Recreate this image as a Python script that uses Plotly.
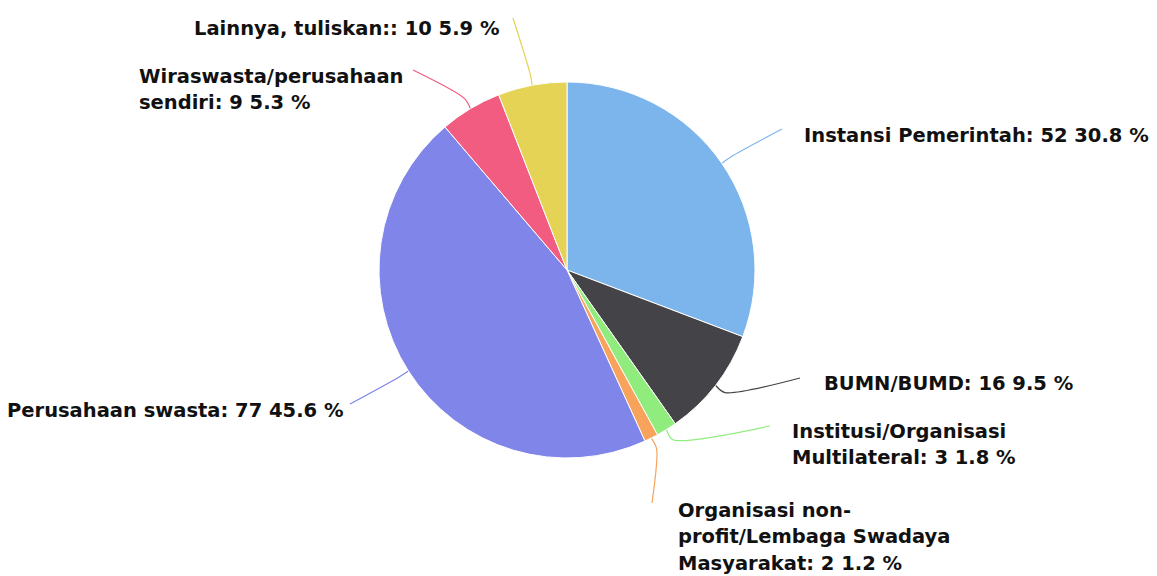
import math
import plotly.graph_objects as go

# ---- data ----
categories = [
    "Instansi Pemerintah",
    "BUMN/BUMD",
    "Institusi/Organisasi Multilateral",
    "Organisasi non-profit/Lembaga Swadaya Masyarakat",
    "Perusahaan swasta",
    "Wiraswasta/perusahaan sendiri",
    "Lainnya, tuliskan:",
]
counts = [52, 16, 3, 2, 77, 9, 10]
label_lines = [
    ["Instansi Pemerintah: 52 30.8 %"],
    ["BUMN/BUMD: 16 9.5 %"],
    ["Institusi/Organisasi", "Multilateral: 3 1.8 %"],
    ["Organisasi non-", "profit/Lembaga Swadaya", "Masyarakat: 2 1.2 %"],
    ["Perusahaan swasta: 77 45.6 %"],
    ["Wiraswasta/perusahaan", "sendiri: 9 5.3 %"],
    ["Lainnya, tuliskan:: 10 5.9 %"],
]
colors = ["#7cb5ec", "#434348", "#90ed7d", "#f7a35c", "#8085e9", "#f15c80", "#e4d354"]

# ---- layout (pixels) ----
W, H = 1157, 576
CX, CY, R = 567, 270, 188
LINE_GAP = 26.5
# label layout: connector end point, first-line text anchor point, anchor side
label_layout = [
    dict(end=(782, 129), txt=(802, 135), anchor="left"),
    dict(end=(800, 378), txt=(822, 383), anchor="left"),
    dict(end=(770, 426), txt=(790, 431), anchor="left"),
    dict(end=(652, 503), txt=(676, 510), anchor="left"),
    dict(end=(350, 404), txt=(345, 410), anchor="right"),
    dict(end=(413, 70), txt=(137, 76), anchor="left"),
    dict(end=(513, 18), txt=(501, 28), anchor="right"),
]

fig = go.Figure()
fig.add_trace(go.Pie(
    labels=categories, values=counts, sort=False, direction="clockwise",
    rotation=0, textinfo="none", hoverinfo="label+value+percent",
    marker=dict(colors=colors, line=dict(color="white", width=1)),
    domain=dict(x=[(CX - R) / W, (CX + R) / W], y=[(H - CY - R) / H, (H - CY + R) / H]),
    showlegend=False,
))

total = sum(counts)
cum = 0
for i, v in enumerate(counts):
    mid = (cum + v / 2) / total * 2 * math.pi
    cum += v
    sx, sy = CX + R * math.sin(mid), CY - R * math.cos(mid)
    mx, my = CX + (R + 12) * math.sin(mid), CY - (R + 12) * math.cos(mid)
    ex, ey = label_layout[i]["end"]
    fig.add_trace(go.Scatter(
        x=[sx, mx, ex], y=[sy, my, ey], mode="lines",
        line=dict(color=colors[i], width=1.2, shape="spline", smoothing=0.8),
        hoverinfo="skip", showlegend=False,
    ))
    tx, ty = label_layout[i]["txt"]
    for k, line in enumerate(label_lines[i]):
        fig.add_annotation(
            x=tx, y=ty + k * LINE_GAP, xref="x", yref="y", text="<b>" + line + "</b>",
            showarrow=False, xanchor=label_layout[i]["anchor"], yanchor="middle",
            font=dict(family="DejaVu Sans", size=19.5, color="#111111"),
        )

fig.update_layout(
    width=W, height=H, margin=dict(l=0, r=0, t=0, b=0),
    paper_bgcolor="white", plot_bgcolor="rgba(0,0,0,0)",
    xaxis=dict(range=[0, W], visible=False, fixedrange=True),
    yaxis=dict(range=[H, 0], visible=False, fixedrange=True),
    font=dict(family="DejaVu Sans"),
)

fig.write_html("out.html", config={"displayModeBar": False},
               post_script="document.body.style.margin='0px';")
